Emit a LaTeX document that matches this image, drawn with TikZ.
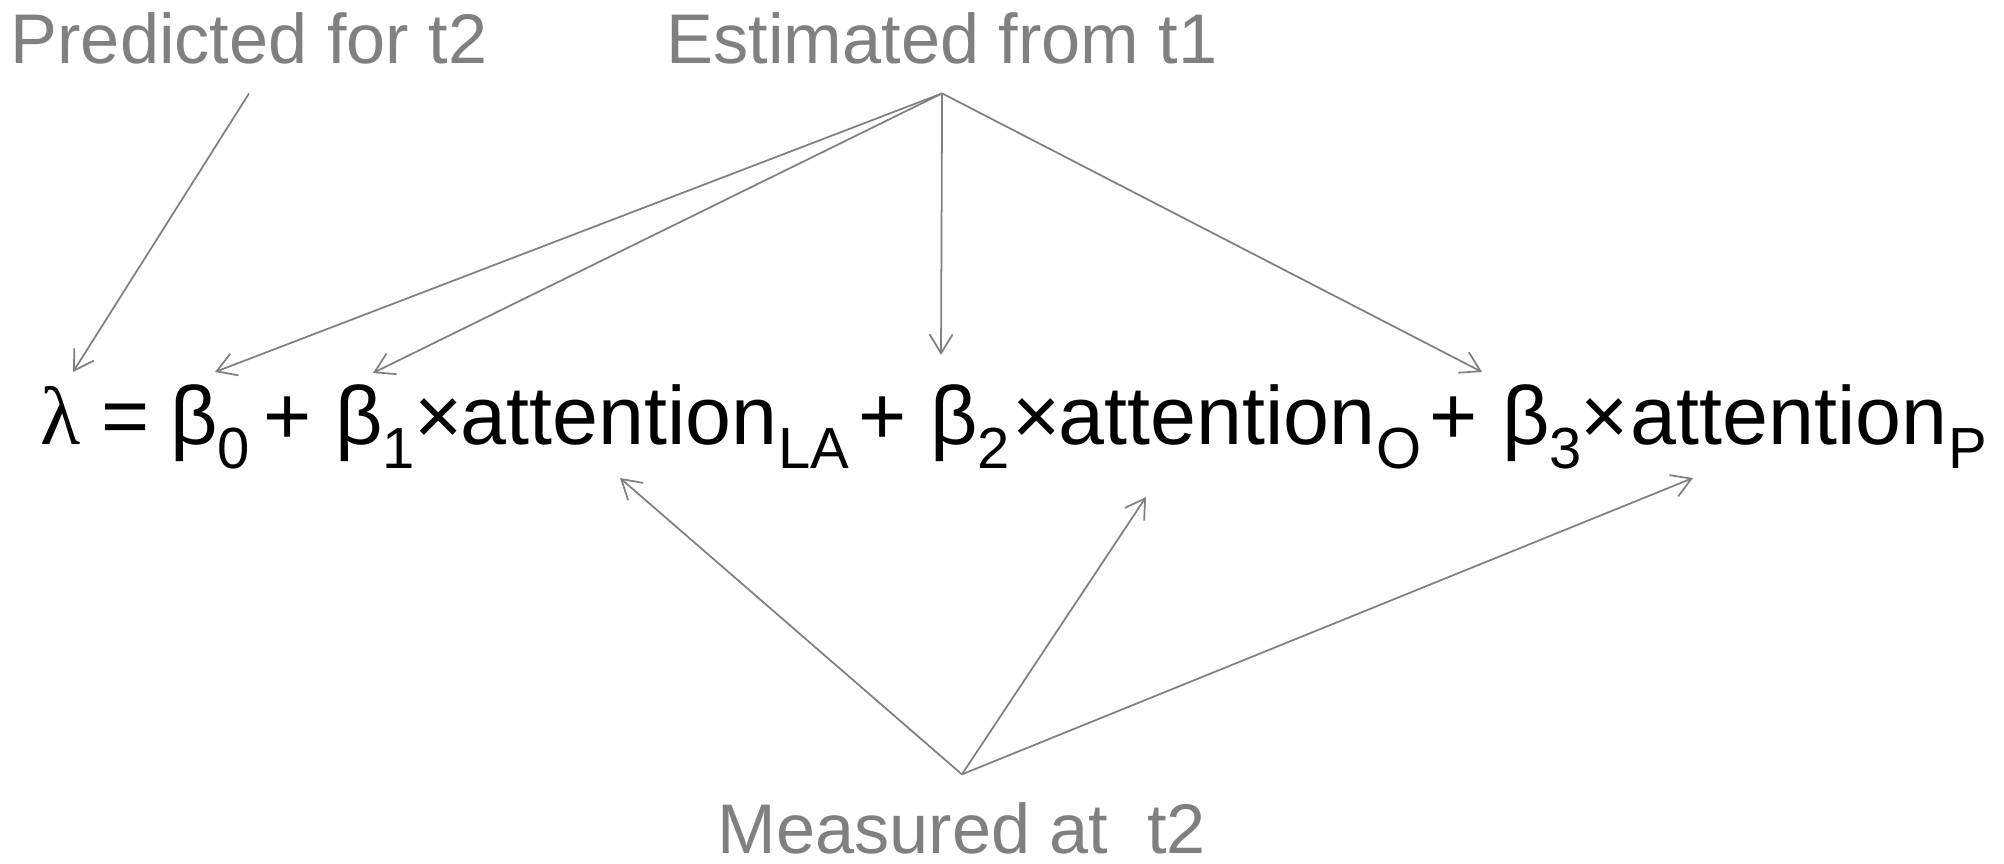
\documentclass[tikz,border=0pt]{standalone}
\usepackage{fontspec}
\setmainfont{Liberation Sans}
\newfontfamily\symfont{Liberation Serif}
\usetikzlibrary{arrows.meta}
\definecolor{labelgray}{RGB}{128,128,128}

\begin{document}
\begin{tikzpicture}[
  term/.style={anchor=base west,inner sep=0pt,font=\fontsize{23.5}{28}\selectfont},
  idx/.style={anchor=base west,inner sep=0pt,font=\fontsize{16.5}{20}\selectfont},
  lbl/.style={anchor=base west,inner sep=0pt,text=labelgray,font=\fontsize{20}{24}\selectfont},
  pointer/.style={draw=labelgray,line width=0.5pt,-{Straight Barb[length=1.9mm,width=2.3mm]}}]
        \useasboundingbox (0,0) rectangle (20.04,8.63);

        \node[lbl] (pred) at (0.10,7.99) {Predicted for t2};
        \node[lbl] (est) at (6.66,7.99) {Estimated from t1};
        \node[lbl] (meas) at (7.17,0.10) {Measured at\ \ t2};

        \node[term] (lam) at (0.40,4.18) {\symfont λ};
        \node[term] (eq) at (1.01,4.18) {=};
        \node[term] (b0) at (1.70,4.18) {β};
        \node[idx] (i0) at (2.17,3.94) {0};
        \node[term] (plus1) at (2.63,4.18) {+};
        \node[term] (b1) at (3.35,4.18) {β};
        \node[idx] (i1) at (3.82,3.94) {1};
        \node[term] (x1) at (4.14,4.18) {×};
        \node[term] (att1) at (4.60,4.18) {attention};
        \node[idx] (la) at (7.78,3.94) {LA};
        \node[term] (plus2) at (8.58,4.18) {+};
        \node[term] (b2) at (9.30,4.18) {β};
        \node[idx] (i2) at (9.77,3.94) {2};
        \node[term] (x2) at (10.12,4.18) {×};
        \node[term] (att2) at (10.58,4.18) {attention};
        \node[idx] (o) at (13.76,3.94) {O};
        \node[term] (plus3) at (14.29,4.18) {+};
        \node[term] (b3) at (15.02,4.18) {β};
        \node[idx] (i3) at (15.49,3.94) {3};
        \node[term] (x3) at (15.80,4.18) {×};
        \node[term] (att3) at (16.30,4.18) {attention};
        \node[idx] (p) at (19.48,3.94) {P};

        \coordinate (predfoot) at ([yshift=-2.8mm]pred.south);
        \coordinate (estfoot) at ([yshift=-2.8mm]est.south);
        \coordinate (meashead) at ([yshift=2.7mm]meas.north);

        \coordinate (lamtip) at (0.73,4.91);
        \coordinate (b0tip) at (2.15,4.91);
        \coordinate (b1tip) at (3.73,4.90);
        \coordinate (b2tip) at (9.41,5.08);
        \coordinate (b3tip) at (14.82,4.91);
        \coordinate (latip) at (6.20,3.85);
        \coordinate (otip) at (11.46,3.66);
        \coordinate (ptip) at (16.93,3.85);

        \draw[pointer] (predfoot) -- (lamtip);
        \draw[pointer] (estfoot) -- (b0tip);
        \draw[pointer] (estfoot) -- (b1tip);
        \draw[pointer] (estfoot) -- (b2tip);
        \draw[pointer] (estfoot) -- (b3tip);
        \draw[pointer] (meashead) -- (latip);
        \draw[pointer] (meashead) -- (otip);
        \draw[pointer] (meashead) -- (ptip);

    \end{tikzpicture}
\end{document}
